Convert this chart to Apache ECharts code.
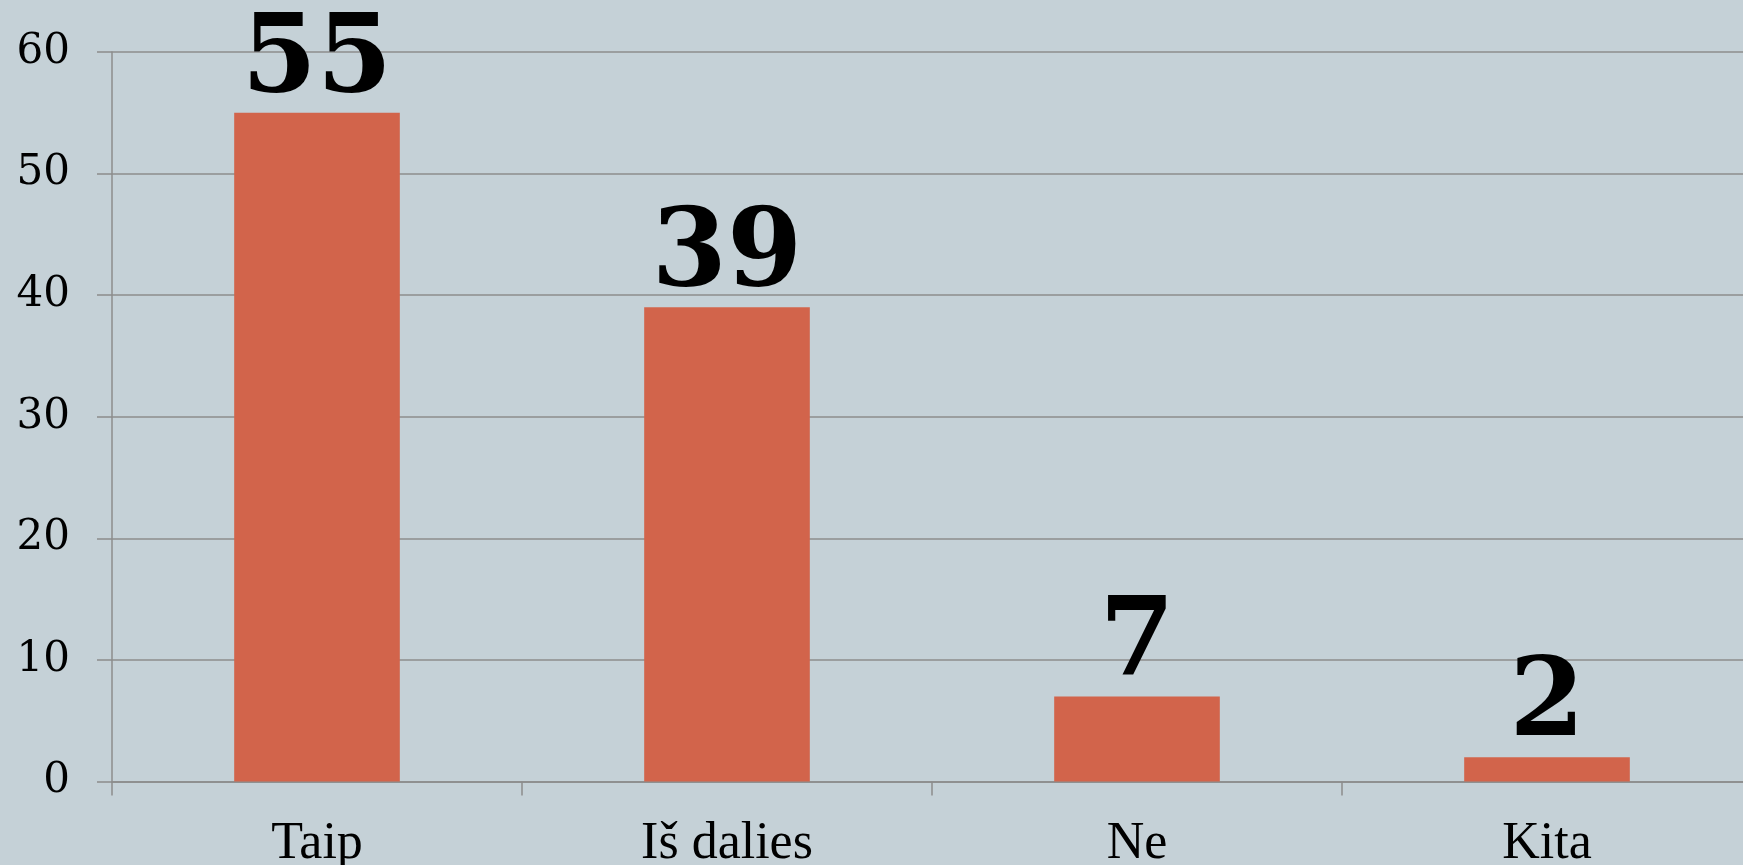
<!DOCTYPE html>
<html>
<head>
<meta charset="utf-8">
<script src="https://cdn.jsdelivr.net/npm/echarts@6/dist/echarts.min.js"></script>
<style>
html,body{margin:0;padding:0;background:#C5D1D7;}
#c{width:1743px;height:865px;}
</style>
</head>
<body>
<div id="c"></div>
<script>
const categories = ["Taip", "Iš dalies", "Ne", "Kita"];
const values = [55, 39, 7, 2];
const yTicks = [0, 10, 20, 30, 40, 50, 60];

const chart = echarts.init(document.getElementById('c'), null, {renderer: 'canvas'});
chart.setOption({
  backgroundColor: '#C5D1D7',
  animation: false,
  grid: {left: 112, right: -9, top: 52, bottom: 83.5, containLabel: false, outerBoundsMode: 'none'},
  xAxis: {
    type: 'category',
    data: categories,
    axisLine: {show: true, lineStyle: {color: '#8c8c8c', width: 1.5}},
    axisTick: {show: true, length: 14, lineStyle: {color: '#8c8c8c', width: 1.5}},
    axisLabel: {color: '#000', fontFamily: 'Liberation Serif', fontSize: 52, margin: 37}
  },
  yAxis: {
    type: 'value',
    min: yTicks[0],
    max: yTicks[yTicks.length - 1],
    interval: 10,
    axisLine: {show: true, lineStyle: {color: '#8c8c8c', width: 1.5}},
    axisTick: {show: true, length: 15, lineStyle: {color: '#8c8c8c', width: 1.5}},
    splitLine: {show: true, lineStyle: {color: '#8c8c8c', width: 1.5}},
    axisLabel: {color: '#000', fontFamily: 'DejaVu Serif', fontSize: 42, margin: 42}
  },
  series: [{
    type: 'bar',
    data: values,
    barWidth: '40.4%',
    itemStyle: {color: '#D2644B'},
    label: {
      show: true,
      position: 'top',
      distance: 1,
      offset: [0, 5],
      color: '#000',
      fontFamily: 'DejaVu Serif',
      fontWeight: 'bold',
      fontSize: 108
    }
  }]
});
</script>
</body>
</html>
